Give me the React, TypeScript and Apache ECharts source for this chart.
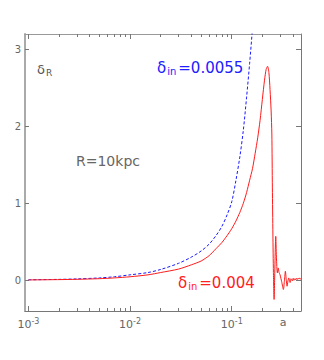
import React, { useEffect, useRef } from "react";
import * as echarts from "echarts";

const aBlue = [0.001, 0.002, 0.003, 0.005, 0.007, 0.01, 0.015, 0.02, 0.03, 0.04, 0.05, 0.06, 0.07, 0.08, 0.09, 0.1, 0.11, 0.12, 0.13, 0.14, 0.15, 0.16, 0.17];
const dBlue = [0.0055, 0.011, 0.017, 0.03, 0.045, 0.07, 0.1, 0.14, 0.22, 0.3, 0.38, 0.47, 0.58, 0.7, 0.85, 1.02, 1.3, 1.6, 1.95, 2.38, 2.82, 3.28, 3.8];

const aRed = [0.001, 0.002, 0.003, 0.005, 0.007, 0.01, 0.015, 0.02, 0.03, 0.04, 0.05, 0.06, 0.07, 0.08, 0.09, 0.1, 0.11, 0.12, 0.13, 0.14, 0.15, 0.16, 0.17, 0.18, 0.19, 0.2, 0.21, 0.218, 0.225, 0.232, 0.238, 0.244, 0.248, 0.251, 0.254, 0.257, 0.261, 0.264, 0.268, 0.271, 0.275, 0.281, 0.287, 0.292, 0.298, 0.31, 0.322, 0.33, 0.337, 0.343, 0.35, 0.357, 0.364, 0.37, 0.375, 0.382, 0.388, 0.395, 0.402, 0.41, 0.418, 0.426, 0.434, 0.442, 0.45, 0.458, 0.466, 0.474, 0.481];
const dRed = [0.004, 0.008, 0.012, 0.02, 0.03, 0.045, 0.07, 0.1, 0.145, 0.2, 0.25, 0.32, 0.41, 0.49, 0.58, 0.67, 0.77, 0.88, 1.0, 1.14, 1.3, 1.45, 1.65, 1.85, 2.08, 2.35, 2.6, 2.74, 2.78, 2.7, 2.48, 2.2, 1.9, 1.2, 0.6, 0.1, -0.25, 0.0, 0.4, 0.57, 0.3, 0.096, 0.16, 0.1, 0.074, -0.02, -0.12, 0.0, 0.117, 0.02, -0.078, -0.01, 0.03, -0.01, -0.03, 0.02, 0.01, -0.01, 0.025, 0.0, 0.02, 0.005, 0.025, 0.01, 0.025, 0.015, 0.03, 0.015, 0.02];

const xMajorTicks = [0.001, 0.01, 0.1];
const xMinorTicks = [0.002, 0.003, 0.004, 0.005, 0.006, 0.007, 0.008, 0.009, 0.02, 0.03, 0.04, 0.05, 0.06, 0.07, 0.08, 0.09, 0.2, 0.3, 0.4];
const xLabelValues = [0.001, 0.01, 0.1, 0.32];
const yTicks = [0, 1, 2, 3];

const X_MIN = 0.000925;
const X_MAX = 0.48;
const Y_MIN = -0.4;
const Y_MAX = 3.2;

const FONT = "DejaVu Sans";
const GRAY = "#666";

export default function App() {
  const ref = useRef<HTMLDivElement>(null);
  useEffect(() => {
    document.body.style.margin = "0";
    const chart = echarts.init(ref.current!, null, { renderer: "svg" });
    const baseX = (pos: string, ticks: number[], len: number, showLine: boolean, lineColor: string) => ({
      type: "log",
      logBase: 10,
      min: X_MIN,
      max: X_MAX,
      position: pos,
      axisLine: { show: showLine, onZero: false, lineStyle: { color: lineColor, width: 1 } },
      axisTick: { show: true, inside: true, length: len, customValues: ticks, lineStyle: { color: "#777" } },
      axisLabel: { show: false },
      splitLine: { show: false },
    });
    const xBottom: any = baseX("bottom", xMajorTicks, 5, true, "#777");
    xBottom.axisLabel = {
      show: true,
      customValues: xLabelValues,
      margin: 6,
      color: GRAY,
      fontFamily: FONT,
      formatter: (v: number) => {
        if (v > 0.2) return "{b|a}";
        const e = Math.round(Math.log10(v));
        return "{b|10}{s|" + e + "}";
      },
      rich: {
        b: { fontSize: 11, color: GRAY, fontFamily: FONT },
        s: { fontSize: 8, color: GRAY, fontFamily: FONT, verticalAlign: "top", padding: [0, 0, 6, 0] },
      },
    };
    const option: any = {
      animation: false,
      grid: { left: 25, right: 23, top: 34, bottom: 49, containLabel: false },
      xAxis: [
        xBottom,
        baseX("bottom", xMinorTicks, 3, false, "#777"),
        baseX("top", xMajorTicks, 5, true, "#999"),
        baseX("top", xMinorTicks, 3, false, "#999"),
      ],
      yAxis: [
        {
          type: "value",
          min: Y_MIN,
          max: Y_MAX,
          position: "left",
          axisLine: { show: true, onZero: false, lineStyle: { color: "#aaa", width: 2 } },
          axisTick: { show: true, inside: true, length: 4, customValues: yTicks, lineStyle: { color: "#777" } },
          axisLabel: { show: true, customValues: yTicks, margin: 4, color: GRAY, fontSize: 10, fontFamily: FONT },
          splitLine: { show: false },
        },
        {
          type: "value",
          min: Y_MIN,
          max: Y_MAX,
          position: "right",
          axisLine: { show: true, onZero: false, lineStyle: { color: "#777", width: 1 } },
          axisTick: { show: true, inside: true, length: 5, customValues: yTicks, lineStyle: { color: "#777" } },
          axisLabel: { show: false },
          splitLine: { show: false },
        },
      ],
      series: [
        {
          type: "line",
          xAxisIndex: 0,
          yAxisIndex: 0,
          data: aBlue.map((a, i) => [a, dBlue[i]]),
          showSymbol: false,
          smooth: 0.3,
          clip: true,
          lineStyle: { color: "#1a1aff", width: 1, type: [3, 2] },
        },
        {
          type: "line",
          xAxisIndex: 0,
          yAxisIndex: 0,
          data: aRed.map((a, i) => [a, dRed[i]]),
          showSymbol: false,
          smooth: 0.25,
          clip: true,
          lineStyle: { color: "#ff1a1a", width: 1 },
        },
      ],
      graphic: [
        {
          type: "text",
          left: 37,
          top: 63,
          style: {
            text: "{d|δ}{s|R}",
            rich: {
              d: { fontSize: 13, fill: "#555", fontFamily: FONT },
              s: { fontSize: 9, fill: "#555", fontFamily: FONT, verticalAlign: "bottom", padding: [6, 0, 0, 1] },
            },
          },
        },
        {
          type: "text",
          left: 157,
          top: 60,
          style: {
            text: "{d|δ}{s|in}{t|=0.0055}",
            rich: {
              d: { fontSize: 15, fill: "#2020ff", fontFamily: FONT },
              s: { fontSize: 10, fill: "#2020ff", fontFamily: FONT, verticalAlign: "bottom", padding: [7, 2, 0, 1] },
              t: { fontSize: 15, fill: "#2020ff", fontFamily: FONT },
            },
          },
        },
        {
          type: "text",
          left: 76,
          top: 154,
          style: { text: "R=10kpc", fontSize: 14, fill: "#666", fontFamily: FONT },
        },
        {
          type: "text",
          left: 178,
          top: 275,
          style: {
            text: "{d|δ}{s|in}{t|=0.004}",
            rich: {
              d: { fontSize: 15, fill: "#ff2020", fontFamily: FONT },
              s: { fontSize: 10, fill: "#ff2020", fontFamily: FONT, verticalAlign: "bottom", padding: [7, 2, 0, 1] },
              t: { fontSize: 15, fill: "#ff2020", fontFamily: FONT },
            },
          },
        },
      ],
    };
    chart.setOption(option);
    return () => chart.dispose();
  }, []);
  return <div ref={ref} style={{ width: 324, height: 360 }} />;
}
